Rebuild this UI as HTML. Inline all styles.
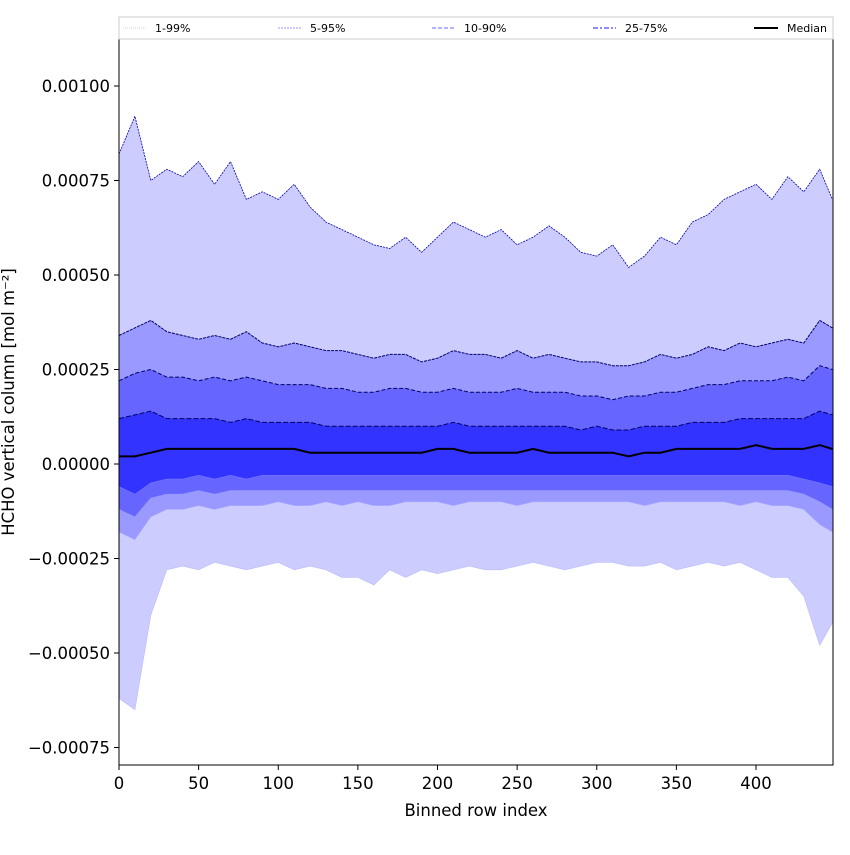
<!DOCTYPE html>
<html><head><meta charset="utf-8"><style>
body{margin:0;background:#fff}
svg text{font-family:"DejaVu Sans","Liberation Sans",sans-serif}
</style></head><body>
<svg id="chart" width="850" height="850" xmlns="http://www.w3.org/2000/svg">
<rect width="850" height="850" fill="#fff"/>
<g id="bands"></g>
<g id="lines"></g>
<rect x="119" y="39" width="714" height="726" fill="none" stroke="#000" stroke-width="1"/>
<g id="xticks"></g><g id="yticks"></g>
<text x="476" y="816" font-size="16.5" text-anchor="middle">Binned row index</text>
<text transform="translate(14,402) rotate(-90)" font-size="16.5" text-anchor="middle">HCHO vertical column [mol m⁻²]</text>
<g>
<rect x="119" y="17" width="714" height="22" fill="#fff" stroke="#ccc"/>
<line x1="123" y1="28" x2="146" y2="28" stroke="#ccccff" stroke-dasharray="1,1"/>
<text x="155" y="32" font-size="11">1-99%</text>
<line x1="278" y1="28" x2="301" y2="28" stroke="#9999ff" stroke-dasharray="2,1"/>
<text x="310" y="32" font-size="11">5-95%</text>
<line x1="432" y1="28" x2="455" y2="28" stroke="#6666ff" stroke-dasharray="4,2"/>
<text x="464" y="32" font-size="11">10-90%</text>
<line x1="593" y1="28" x2="616" y2="28" stroke="#6666ff" stroke-width="1.5" stroke-dasharray="5,2,2,2"/>
<text x="625" y="32" font-size="11">25-75%</text>
<line x1="754" y1="28" x2="778" y2="28" stroke="#000" stroke-width="2"/>
<text x="787" y="32" font-size="11">Median</text>
</g>
</svg>
<script>
const idx=[0,10,20,30,40,50,60,70,80,90,100,110,120,130,140,150,160,170,180,190,200,210,220,230,240,250,260,270,280,290,300,310,320,330,340,350,360,370,380,390,400,410,420,430,440,448];
const p99=[82,92,75,78,76,80,74,80,70,72,70,74,68,64,62,60,58,57,60,56,60,64,62,60,62,58,60,63,60,56,55,58,52,55,60,58,64,66,70,72,74,70,76,72,78,70];
const p95=[34,36,38,35,34,33,34,33,35,32,31,32,31,30,30,29,28,29,29,27,28,30,29,29,28,30,28,29,28,27,27,26,26,27,29,28,29,31,30,32,31,32,33,32,38,36];
const p90=[22,24,25,23,23,22,23,22,23,22,21,21,21,20,20,19,19,20,20,19,19,20,19,19,19,20,19,19,19,18,18,17,18,18,19,19,20,21,21,22,22,22,23,22,26,25];
const p75=[12,13,14,12,12,12,12,11,12,11,11,11,11,10,10,10,10,10,10,10,10,11,10,10,10,10,10,10,10,9,10,9,9,10,10,10,11,11,11,12,12,12,12,12,14,13];
const med=[2,2,3,4,4,4,4,4,4,4,4,4,3,3,3,3,3,3,3,3,4,4,3,3,3,3,4,3,3,3,3,3,2,3,3,4,4,4,4,4,5,4,4,4,5,4];
const p25=[-6,-8,-5,-4,-4,-3,-4,-3,-4,-3,-3,-3,-3,-3,-3,-3,-3,-3,-3,-3,-3,-3,-3,-3,-3,-3,-3,-3,-3,-3,-3,-3,-3,-3,-3,-3,-3,-3,-3,-3,-3,-3,-3,-4,-5,-6];
const p10=[-12,-14,-9,-8,-8,-7,-8,-7,-7,-7,-7,-7,-7,-7,-7,-7,-7,-7,-7,-7,-7,-7,-7,-7,-7,-7,-7,-7,-7,-7,-7,-7,-7,-7,-7,-7,-7,-7,-7,-7,-7,-7,-7,-8,-10,-12];
const p5=[-18,-20,-14,-12,-12,-11,-12,-11,-11,-11,-10,-11,-11,-10,-11,-10,-11,-11,-10,-10,-10,-11,-10,-10,-10,-11,-10,-10,-10,-10,-10,-10,-10,-11,-10,-10,-10,-10,-10,-11,-10,-11,-11,-12,-16,-18];
const p1=[-62,-65,-40,-28,-27,-28,-26,-27,-28,-27,-26,-28,-27,-28,-30,-30,-32,-28,-30,-28,-29,-28,-27,-28,-28,-27,-26,-27,-28,-27,-26,-26,-27,-27,-26,-28,-27,-26,-27,-26,-28,-30,-30,-35,-48,-42];
const xTicks=[0,50,100,150,200,250,300,350,400];
const yTicks=[-75,-50,-25,0,25,50,75,100];
const yTickLabels=["\u22120.00075","\u22120.00050","\u22120.00025","0.00000","0.00025","0.00050","0.00075","0.00100"];
const NS="http://www.w3.org/2000/svg";
const X=v=>119+v*(637/400);
const Y=v=>464-v*(378/100);
function mk(t,a,p){const e=document.createElementNS(NS,t);for(const k in a)e.setAttribute(k,a[k]);p.appendChild(e);return e;}
function linePts(arr){return idx.map((x,i)=>X(x).toFixed(1)+","+Y(arr[i]).toFixed(1)).join(" ");}
function band(lo,hi,fill,name){
 const pts=idx.map((x,i)=>X(x)+","+Y(hi[i])).concat(idx.slice().reverse().map((x,j)=>{const i=idx.length-1-j;return X(x)+","+Y(lo[i]);}));
 const e=mk("polygon",{points:pts.join(" "),fill:fill},document.getElementById("bands"));
 
 
}
band(p1,p99,"#ccccff","band-1-99");
band(p5,p95,"#9999ff","band-5-95");
band(p10,p90,"#6666ff","band-10-90");
band(p25,p75,"#3333ff","band-25-75");
const L=document.getElementById("lines");
[[p99,"#0000aa",0.8,"2,1","line-p99"],[p95,"#000066",1,"3,1","line-p95"],[p90,"#000066",1,"4,2","line-p90"],[p75,"#000066",1,"5,2","line-p75"],
 [p25,"#7777ff",0.6,"","line-p25"],[p10,"#9999ff",0.6,"","line-p10"],[p5,"#aaaaff",0.6,"","line-p5"],[p1,"#bbbbff",0.6,"","line-p1"]].forEach(s=>{
 const e=mk("polyline",{points:linePts(s[0]),fill:"none",stroke:s[1],"stroke-width":s[2],"stroke-dasharray":s[3]},L);
 
 
});
const m=mk("polyline",{points:linePts(med),fill:"none",stroke:"#000","stroke-width":2},L);


const XT=document.getElementById("xticks");
xTicks.forEach(v=>{
 mk("line",{x1:X(v),x2:X(v),y1:765,y2:770,stroke:"#000"},XT);
 const t=mk("text",{x:X(v),y:789,"font-size":16.5,"text-anchor":"middle"},XT);t.textContent=v;
 
 
});
const YT=document.getElementById("yticks");
yTicks.forEach((v,i)=>{
 mk("line",{x1:114,x2:119,y1:Y(v),y2:Y(v),stroke:"#000"},YT);
 const t=mk("text",{x:110,y:Y(v)+6,"font-size":16.5,"text-anchor":"end"},YT);t.textContent=yTickLabels[i];
 
 
});
</script>
</body></html>
